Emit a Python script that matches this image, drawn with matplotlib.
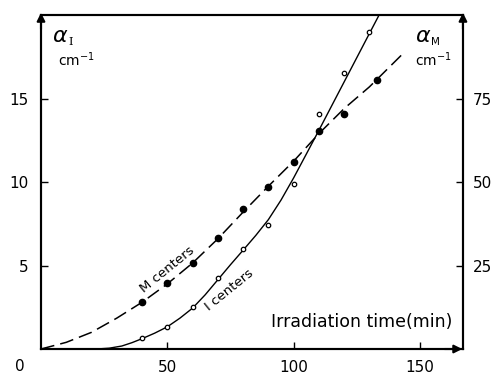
import matplotlib.pyplot as plt
import numpy as np

# measured points
t_pts = [40, 50, 60, 70, 80, 90, 100, 110, 120, 133]
m_pts = [14.0, 19.75, 25.75, 33.25, 42.0, 48.5, 56.0, 65.25, 70.5, 80.5]   # right axis
t_i_pts = [40, 50, 60, 70, 80, 90, 100, 110, 120, 130]
i_pts = [0.66, 1.32, 2.51, 4.25, 6.0, 7.43, 9.88, 14.07, 16.5, 19.0]       # left axis

# hand drawn curves
m_curve_t = [0, 10, 20, 30, 40, 50, 60, 70, 80, 90, 100, 110, 120, 130, 143]
m_curve = [0, 2.0, 5.0, 9.25, 14.0, 19.5, 25.75, 33.0, 41.0, 48.75, 56.25, 64.5, 72.0, 78.5, 88.25]
i_curve_t = [22, 27, 32, 36, 40, 45, 50, 55, 60, 65, 70, 75, 80, 85, 90, 95, 100,
             105, 110, 115, 120, 125, 130, 134.5]
i_curve = [0, 0.05, 0.18, 0.38, 0.62, 0.95, 1.33, 1.85, 2.45, 3.25, 4.15, 5.05, 5.92,
           6.8, 7.75, 8.92, 10.25, 11.67, 13.1, 14.55, 16.0, 17.45, 18.9, 20.2]

left_ticks = [5, 10, 15]
right_ticks = [25, 50, 75]
x_ticks = [50, 100, 150]

fig = plt.figure(figsize=(4.97, 3.75), dpi=100)
ax = fig.add_axes([0.0825, 0.0693, 0.849, 0.8907])
ax2 = ax.twinx()

ax.set_xlim(0, 167)
ax.set_ylim(0, 20)
ax2.set_ylim(0, 100)

# I centers on left axis
ax.plot(i_curve_t, i_curve, color='black', lw=1.0)
ax.plot(t_i_pts, i_pts, 'o', ms=3.2, mfc='white', mec='black', mew=0.9)

# M centers on right axis
ax2.plot(m_curve_t, m_curve, color='black', lw=1.1, dashes=(9, 4))
ax2.plot(t_pts, m_pts, 'o', ms=4.5, color='black')

for a in (ax, ax2):
    for s in a.spines.values():
        s.set_linewidth(1.5)

ax.set_xticks(x_ticks)
ax.set_yticks(left_ticks)
ax2.set_yticks(right_ticks)
ax.tick_params(direction='in', length=5, width=1, labelsize=11, pad=9)
ax2.tick_params(direction='in', length=5, width=1, labelsize=11, pad=7)
ax.tick_params(axis='x', pad=8)
ax.text(-0.05, -0.03, '0', transform=ax.transAxes, ha='center', va='top', fontsize=11)

# arrows at ends of axes
arr = dict(arrowstyle='-|>', color='black', lw=1.5, mutation_scale=12)
ax.annotate('', xy=(0, 1.015), xytext=(0, 0.95), xycoords='axes fraction', arrowprops=arr)
ax.annotate('', xy=(1, 1.015), xytext=(1, 0.95), xycoords='axes fraction', arrowprops=arr)
ax.annotate('', xy=(1.005, 0), xytext=(0.95, 0), xycoords='axes fraction', arrowprops=arr)

# axis labels
ax.text(0.025, 0.97, r'$\alpha$', transform=ax.transAxes, fontsize=16, va='top',
        family='DejaVu Serif', style='italic')
ax.text(0.066, 0.933, 'I', transform=ax.transAxes, fontsize=8, va='top', family='DejaVu Serif')
ax.text(0.04, 0.894, 'cm$^{-1}$', transform=ax.transAxes, fontsize=10, va='top')
ax.text(0.887, 0.97, r'$\alpha$', transform=ax.transAxes, fontsize=16, va='top',
        family='DejaVu Serif', style='italic')
ax.text(0.925, 0.933, 'M', transform=ax.transAxes, fontsize=7.5, va='top')
ax.text(0.887, 0.894, 'cm$^{-1}$', transform=ax.transAxes, fontsize=10, va='top')
ax.text(0.975, 0.055, 'Irradiation time(min)', transform=ax.transAxes, fontsize=12.5,
        ha='right', va='bottom')

ax.text(50, 4.75, 'M centers', rotation=39, ha='center', va='center', fontsize=9.5,
        rotation_mode='anchor')
ax.text(74.5, 3.55, 'I centers', rotation=39, ha='center', va='center', fontsize=9.5,
        rotation_mode='anchor')

fig.savefig('out.png', dpi=100)
